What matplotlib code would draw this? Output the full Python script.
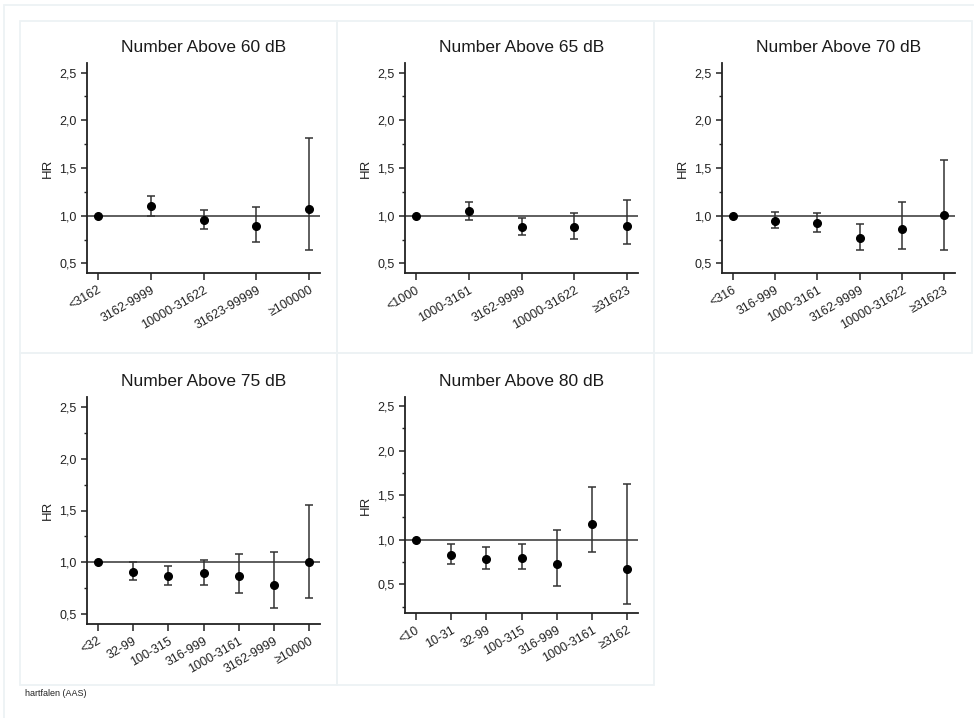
import matplotlib
matplotlib.use("Agg")
import matplotlib.pyplot as plt
from matplotlib.patches import Rectangle
from matplotlib.ticker import MultipleLocator, FuncFormatter

plt.rcParams["font.family"] = ["Liberation Sans", "DejaVu Sans"]

titles = ["Number Above 60 dB", "Number Above 65 dB", "Number Above 70 dB",
          "Number Above 75 dB", "Number Above 80 dB"]

cats_60 = ["<3162", "3162-9999", "10000-31622", "31623-99999", "≥100000"]
hr_60 = [1.0, 1.10, 0.955, 0.89, 1.075]
lo_60 = [1.0, 1.00, 0.86, 0.73, 0.645]
hi_60 = [1.0, 1.21, 1.055, 1.09, 1.81]

cats_65 = ["<1000", "1000-3161", "3162-9999", "10000-31622", "≥31623"]
hr_65 = [1.0, 1.05, 0.88, 0.88, 0.895]
lo_65 = [1.0, 0.96, 0.80, 0.755, 0.70]
hi_65 = [1.0, 1.145, 0.975, 1.03, 1.16]

cats_70 = ["<316", "316-999", "1000-3161", "3162-9999", "10000-31622", "≥31623"]
hr_70 = [1.0, 0.948, 0.927, 0.767, 0.865, 1.003]
lo_70 = [1.0, 0.868, 0.833, 0.646, 0.653, 0.639]
hi_70 = [1.0, 1.035, 1.028, 0.917, 1.146, 1.583]

cats_75 = ["<32", "32-99", "100-315", "316-999", "1000-3161", "3162-9999", "≥10000"]
hr_75 = [1.0, 0.908, 0.866, 0.892, 0.869, 0.78, 1.003]
lo_75 = [1.0, 0.828, 0.78, 0.774, 0.704, 0.551, 0.65]
hi_75 = [1.0, 1.0, 0.965, 1.019, 1.08, 1.10, 1.55]

cats_80 = ["<10", "10-31", "32-99", "100-315", "316-999", "1000-3161", "≥3162"]
hr_80 = [1.0, 0.828, 0.784, 0.799, 0.728, 1.172, 0.672]
lo_80 = [1.0, 0.728, 0.675, 0.668, 0.485, 0.858, 0.284]
hi_80 = [1.0, 0.951, 0.914, 0.951, 1.108, 1.597, 1.623]

panels = [
    (cats_60, hr_60, lo_60, hi_60),
    (cats_65, hr_65, lo_65, hi_65),
    (cats_70, hr_70, lo_70, hi_70),
    (cats_75, hr_75, lo_75, hi_75),
    (cats_80, hr_80, lo_80, hi_80),
]

W, H = 974, 718


def px_rect(x0, y0, x1, y1):
    # pixel box (top-left origin) -> figure fraction [left, bottom, width, height]
    return [x0 / W, 1 - y1 / H, (x1 - x0) / W, (y1 - y0) / H]


axes_px = [
    (87, 63, 320, 273),
    (405, 63, 638, 273),
    (722, 63, 955, 273),
    (87, 397, 320, 624),
    (405, 397, 638, 613),
]
ylims = [(0.4, 2.6), (0.4, 2.6), (0.4, 2.6), (0.4, 2.6), (0.18, 2.6)]

fig = plt.figure(figsize=(W / 100, H / 100), dpi=100)

# light frames around the page and each panel
frame_col = "#edf2f4"
boxes = [(4, 5, 975, 720), (20, 21, 337, 353), (337, 21, 654, 353), (654, 21, 972, 353),
         (20, 353, 337, 685), (337, 353, 654, 685)]
for x0, y0, x1, y1 in boxes:
    l, b, w, h = px_rect(x0, y0, x1, y1)
    fig.add_artist(Rectangle((l, b), w, h, transform=fig.transFigure,
                             fill=False, edgecolor=frame_col, linewidth=1.3))

dark = "#222222"
comma = FuncFormatter(lambda v, p: f"{v:.1f}".replace(".", ","))

for i, (cats, hr, lo, hi) in enumerate(panels):
    ax = fig.add_axes(px_rect(*axes_px[i]))
    x = list(range(len(cats)))
    yerr = [[h - l for h, l in zip(hr, lo)], [u - h for u, h in zip(hi, hr)]]
    ax.axhline(1.0, color="#333333", linewidth=1.1, zorder=1)
    ax.errorbar(x, hr, yerr=yerr, fmt="o", color="black", markersize=5.5,
                ecolor="#333333", elinewidth=1.1, capsize=3, capthick=1.1, zorder=3)
    ax.set_xticks(x)
    ax.set_xticklabels(cats, rotation=30, ha="right", rotation_mode="anchor",
                       fontsize=9, color=dark)
    ax.margins(x=0.05)
    ax.set_ylim(*ylims[i])
    ax.yaxis.set_major_locator(MultipleLocator(0.5))
    ax.yaxis.set_minor_locator(MultipleLocator(0.25))
    ax.yaxis.set_major_formatter(comma)
    ax.tick_params(axis="y", labelsize=9, labelcolor=dark, length=4, width=1.1, color=dark)
    ax.tick_params(axis="y", which="minor", length=2.5, width=1.0, color=dark)
    ax.tick_params(axis="x", length=5, width=1.1, color=dark, pad=3)
    ax.set_ylabel("HR", fontsize=9.5, color=dark, labelpad=4)
    ax.set_title(titles[i], fontsize=12.5, color="#1a1a1a", pad=8)
    for side in ["top", "right"]:
        ax.spines[side].set_visible(False)
    for side in ["left", "bottom"]:
        ax.spines[side].set_color(dark)
        ax.spines[side].set_linewidth(1.3)

fig.text(25 / W, 1 - 693 / H, "hartfalen (AAS)", fontsize=6.5, color="#222222",
         va="center", ha="left")

fig.savefig("out.png", dpi=100)
